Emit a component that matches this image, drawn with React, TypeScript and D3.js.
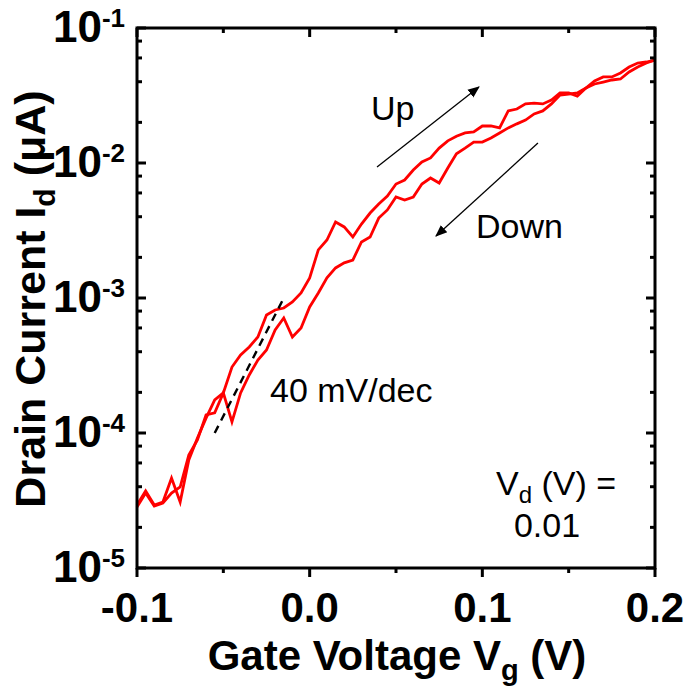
import React from 'react';
import * as d3 from 'd3';

const W = 685;
const H = 693;
const frame = { left: 137, right: 655, top: 28, bottom: 568 };

// gate voltage (V)
const gateVoltage = [
  -0.1, -0.095, -0.09, -0.085, -0.08, -0.075, -0.07, -0.065, -0.06, -0.055,
  -0.05, -0.045, -0.04, -0.035, -0.03, -0.025, -0.02, -0.015, -0.01, -0.005,
  0.0, 0.005, 0.01, 0.015, 0.02, 0.025, 0.03, 0.035, 0.04, 0.045,
  0.05, 0.055, 0.06, 0.065, 0.07, 0.075, 0.08, 0.085, 0.09, 0.095,
  0.1, 0.105, 0.11, 0.115, 0.12, 0.125, 0.13, 0.135, 0.14, 0.145,
  0.15, 0.155, 0.16, 0.165, 0.17, 0.175, 0.18, 0.185, 0.19, 0.195, 0.2,
];

// drain current (uA), upper-left branch
const sweepUp = [
  2.93e-5, 3.72e-5, 2.93e-5, 3.08e-5, 4.64e-5, 3.08e-5, 6.31e-5, 9.18e-5, 1.29e-4, 1.76e-4,
  1.98e-4, 3.08e-4, 3.78e-4, 4.34e-4, 5.14e-4, 7.48e-4, 8.15e-4, 8.43e-4, 9.34e-4, 1.09e-3,
  1.41e-3, 2.27e-3, 2.69e-3, 3.66e-3, 3.36e-3, 2.83e-3, 3.53e-3, 4.26e-3, 4.97e-3, 5.7e-3,
  6.99e-3, 7.48e-3, 8.87e-3, 1.017e-2, 1.09e-2, 1.29e-2, 1.46e-2, 1.58e-2, 1.67e-2, 1.7e-2,
  1.88e-2, 1.88e-2, 1.82e-2, 2.43e-2, 2.51e-2, 2.74e-2, 2.78e-2, 2.74e-2, 2.93e-2, 3.3e-2,
  3.3e-2, 3.13e-2, 3.59e-2, 4.05e-2, 4.34e-2, 4.34e-2, 4.64e-2, 5.14e-2, 5.5e-2, 5.6e-2, 5.79e-2,
];

// drain current (uA), lower-right branch
const sweepDown = [
  2.83e-5, 3.59e-5, 2.88e-5, 3.03e-5, 3.59e-5, 3.98e-5, 6.87e-5, 8.87e-5, 1.36e-4, 1.41e-4,
  1.98e-4, 1.21e-4, 1.98e-4, 2.69e-4, 3.47e-4, 4.12e-4, 5.79e-4, 7.11e-4, 5.14e-4, 5.99e-4,
  8.58e-4, 1.09e-3, 1.41e-3, 1.67e-3, 1.82e-3, 1.91e-3, 2.6e-3, 2.83e-3, 3.91e-3, 4.49e-3,
  5.6e-3, 5.32e-3, 5.6e-3, 6.99e-3, 7.74e-3, 7.11e-3, 9.18e-3, 1.17e-2, 1.29e-2, 1.43e-2,
  1.43e-2, 1.53e-2, 1.67e-2, 1.82e-2, 1.95e-2, 2.08e-2, 2.31e-2, 2.43e-2, 2.74e-2, 3.19e-2,
  3.24e-2, 3.3e-2, 3.59e-2, 3.85e-2, 3.98e-2, 4.12e-2, 4.19e-2, 4.72e-2, 5.14e-2, 5.5e-2, 5.79e-2,
];

// 40 mV/dec guide
const slopeLine: [number, number][] = [[-0.055, 1e-4], [-0.015, 1e-3]];
const upArrow: [number, number][] = [[0.039, 9.34e-3], [0.098, 3.66e-2]];
const downArrow: [number, number][] = [[0.1322, 1.406e-2], [0.0732, 2.88e-3]];

const xMajor = [-0.1, 0.0, 0.1, 0.2];
const xMajorLabels = ['-0.1', '0.0', '0.1', '0.2'];
const xMinor = [-0.05, 0.05, 0.15];
const yDecades = [-1, -2, -3, -4, -5];
const yMinorMult = [2, 4, 6, 8];

const FONT = '"Liberation Sans", Arial, Helvetica, sans-serif';

export default function App() {
  const x = d3.scaleLinear().domain([-0.1, 0.2]).range([frame.left, frame.right]);
  const y = d3.scaleLog().domain([1e-5, 1e-1]).range([frame.bottom, frame.top]);

  const line = d3.line<[number, number]>().x(d => x(d[0])).y(d => y(d[1]));
  const upPts = gateVoltage.map((v, i) => [v, sweepUp[i]] as [number, number]);
  const downPts = gateVoltage.map((v, i) => [v, sweepDown[i]] as [number, number]);

  const yMinor: number[] = [];
  yDecades.slice(1).forEach(e => yMinorMult.forEach(m => yMinor.push(m * Math.pow(10, e))));

  const majLen = 9;
  const minLen = 5;

  return (
    <svg width={W} height={H} style={{ position: 'absolute', left: 0, top: 0, background: '#fff' }}>
      <defs>
        <marker id="ah" viewBox="0 0 10 10" refX="9" refY="5" markerWidth="12" markerHeight="12"
          markerUnits="userSpaceOnUse" orient="auto">
          <path d="M0,1 L10,5 L0,9 Z" fill="#000" />
        </marker>
      </defs>

      {/* curves */}
      <path d={line(upPts) || ''} fill="none" stroke="#ff0000" strokeWidth={2.8} />
      <path d={line(downPts) || ''} fill="none" stroke="#ff0000" strokeWidth={2.8} />

      {/* slope guide */}
      <path d={line(slopeLine) || ''} fill="none" stroke="#000" strokeWidth={2.4} strokeDasharray="8,6" />

      {/* arrows */}
      <path d={line(upArrow) || ''} stroke="#000" strokeWidth={1.3} fill="none" markerEnd="url(#ah)" />
      <path d={line(downArrow) || ''} stroke="#000" strokeWidth={1.3} fill="none" markerEnd="url(#ah)" />

      {/* ticks */}
      <g stroke="#000" strokeWidth={3}>
        {yDecades.map(e => {
          const yy = y(Math.pow(10, e));
          return (
            <g key={'yd' + e}>
              <line x1={frame.left} x2={frame.left + majLen} y1={yy} y2={yy} />
              <line x1={frame.right} x2={frame.right - majLen} y1={yy} y2={yy} />
            </g>
          );
        })}
        {yMinor.map((v, i) => (
          <g key={'ym' + i}>
            <line x1={frame.left} x2={frame.left + minLen} y1={y(v)} y2={y(v)} />
            <line x1={frame.right} x2={frame.right - minLen} y1={y(v)} y2={y(v)} />
          </g>
        ))}
        {xMajor.map(v => (
          <g key={'xM' + v}>
            <line x1={x(v)} x2={x(v)} y1={frame.bottom} y2={frame.bottom + majLen} />
            <line x1={x(v)} x2={x(v)} y1={frame.top} y2={frame.top + majLen} />
          </g>
        ))}
        {xMinor.map(v => (
          <g key={'xm' + v}>
            <line x1={x(v)} x2={x(v)} y1={frame.bottom} y2={frame.bottom + minLen} />
            <line x1={x(v)} x2={x(v)} y1={frame.top} y2={frame.top + minLen} />
          </g>
        ))}
      </g>

      {/* frame */}
      <rect x={frame.left} y={frame.top} width={frame.right - frame.left} height={frame.bottom - frame.top}
        fill="none" stroke="#000" strokeWidth={3} />

      {/* x tick labels */}
      <g fontFamily={FONT} fontWeight="bold" fontSize={42} textAnchor="middle">
        {xMajor.map((v, i) => (
          <text key={'xl' + i} x={x(v)} y={frame.bottom + 54}>{xMajorLabels[i]}</text>
        ))}
      </g>

      {/* y tick labels */}
      <g fontFamily={FONT} fontWeight="bold">
        {yDecades.map(e => (
          <text key={'yl' + e} x={frame.left - 12} y={y(Math.pow(10, e)) + 14} textAnchor="end" fontSize={44}>
            10<tspan fontSize={26} dy={-15}>{e}</tspan>
          </text>
        ))}
      </g>

      {/* axis titles */}
      <text x={397} y={670} textAnchor="middle" fontFamily={FONT}
        fontWeight="bold" fontSize={42}>
        Gate Voltage V<tspan fontSize={29} dy={10}>g</tspan><tspan dy={-10}> (V)</tspan>
      </text>
      <text transform={`translate(45, 299) rotate(-90)`} textAnchor="middle"
        fontFamily={FONT} fontWeight="bold" fontSize={43}>
        Drain Current I<tspan fontSize={30} dy={10}>d</tspan><tspan dy={-10}> (μA)</tspan>
      </text>

      {/* annotations */}
      <g fontFamily={FONT} fontSize={34} fill="#000">
        <text x={371} y={120}>Up</text>
        <text x={476} y={238}>Down</text>
        <text x={270} y={402}>40 mV/dec</text>
        <text x={556} y={495} textAnchor="middle">
          V<tspan fontSize={24} dy={8}>d</tspan><tspan dy={-8}> (V) =</tspan>
        </text>
        <text x={547} y={537} textAnchor="middle">0.01</text>
      </g>
    </svg>
  );
}
